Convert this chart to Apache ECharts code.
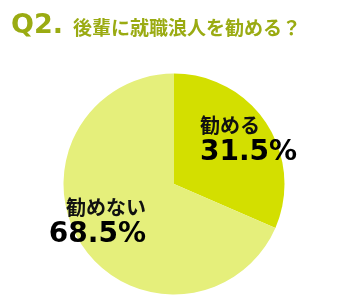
<!DOCTYPE html>
<html><head><meta charset="utf-8">
<script src="https://cdn.jsdelivr.net/npm/echarts@6/dist/echarts.min.js"></script>
<style>html,body{margin:0;padding:0;background:#fff}#c{width:353px;height:307px}</style>
</head><body><div id="c"></div>
<script>
const categories = ['勧める', '勧めない'];
const values = [31.5, 68.5];
const titleMain = 'Q2.';
const titleSub = '後輩に就職浪人を勧める？';

const chart = echarts.init(document.getElementById('c'), null, {renderer: 'canvas'});
const colors = ['#d3df00', '#e5ef7b'];
const labelPos = [
  {x: 200, y: 140, align: 'left'},
  {x: 146, y: 222, align: 'right'}
];
chart.setOption({
  animation: false,
  title: {
    left: 6, top: 7,
    text: '{a|' + titleMain + '}{b|' + titleSub + '}',
    textStyle: {
      rich: {
        a: {fontFamily: 'DejaVu Sans', fontWeight: 'bold', fontSize: 27, color: '#9aab12'},
        b: {fontFamily: 'Noto Sans CJK JP', fontWeight: 'bold', fontSize: 19, color: '#9aab12', padding: [4, 0, 0, 10]}
      }
    }
  },
  series: [{
    type: 'pie',
    center: [174, 184],
    radius: [0, 110.5],
    startAngle: 90,
    clockwise: true,
    silent: true,
    data: categories.map((c, i) => ({
      name: c, value: values[i],
      itemStyle: {color: colors[i]},
      label: {align: labelPos[i].align}
    })),
    label: {
      show: true,
      position: 'inside',
      formatter: p => '{n|' + p.name + '}\n{v|' + p.value.toFixed(1) + '%}',
      rich: {
        n: {fontFamily: 'Noto Sans CJK JP', fontWeight: 'bold', fontSize: 20, color: '#111', lineHeight: 26},
        v: {fontFamily: 'DejaVu Sans', fontWeight: 'bold', fontSize: 28, color: '#000', lineHeight: 30}
      }
    },
    labelLine: {show: false},
    labelLayout: p => ({x: labelPos[p.dataIndex].x, y: labelPos[p.dataIndex].y, align: labelPos[p.dataIndex].align, verticalAlign: 'middle'})
  }]
});
</script></body></html>
